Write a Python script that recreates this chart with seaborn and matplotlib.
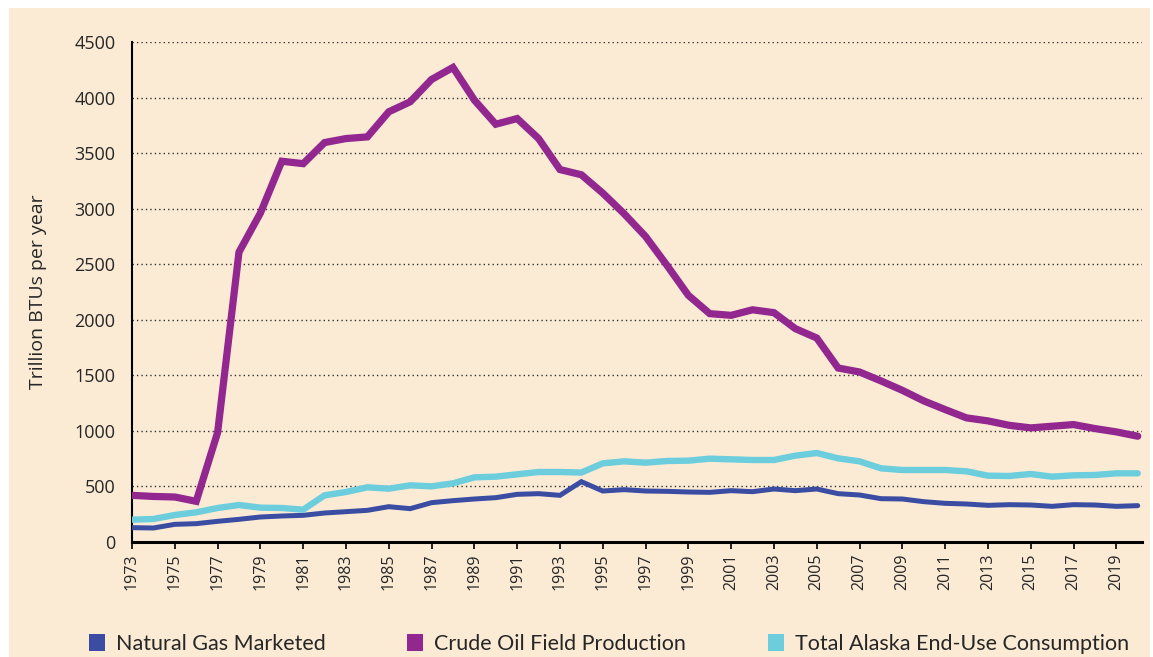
import numpy as np
import pandas as pd
import matplotlib
matplotlib.use("Agg")
import matplotlib.pyplot as plt
import seaborn as sns
from matplotlib.patches import Patch, Rectangle

years = list(range(1973, 2021))
natural_gas = [129, 126, 159, 165, 186, 204, 225, 234, 240, 261, 273, 285, 318, 300, 354, 372,
               387, 399, 429, 435, 420, 543, 459, 471, 459, 456, 450, 447, 462, 453, 477, 462,
               477, 435, 423, 390, 387, 363, 348, 342, 330, 336, 333, 321, 336, 333, 321, 327]
crude_oil = [420, 410, 405, 366, 985, 2609, 2960, 3427, 3405, 3595, 3631, 3646, 3872, 3962, 4163, 4271,
             3977, 3760, 3811, 3631, 3352, 3305, 3140, 2954, 2750, 2490, 2220, 2055, 2040, 2090, 2064, 1920,
             1836, 1566, 1530, 1450, 1365, 1270, 1192, 1117, 1090, 1050, 1027, 1042, 1057, 1021, 991, 952]
consumption = [201, 207, 243, 267, 306, 333, 309, 306, 291, 420, 450, 492, 480, 510, 501, 528,
               582, 588, 609, 630, 630, 625, 708, 726, 714, 729, 732, 750, 744, 738, 738, 777,
               801, 753, 726, 663, 648, 648, 648, 636, 597, 594, 612, 588, 600, 603, 618, 618]

series_names = ["Natural Gas Marketed", "Crude Oil Field Production", "Total Alaska End-Use Consumption"]
colors = ["#3A4DA3", "#92278F", "#6CCDDC"]
widths = [3.6, 5.2, 4.6]

df = pd.DataFrame({"year": years, series_names[0]: natural_gas,
                   series_names[1]: crude_oil, series_names[2]: consumption})
long = df.melt(id_vars="year", var_name="series", value_name="value")

sns.set_style("white")
plt.rcParams['font.family'] = ['Open Sans', 'DejaVu Sans']

bg = "#FCEBD4"
fig = plt.figure(figsize=(11.53, 6.57), dpi=100, facecolor="white")
fig.patches.append(Rectangle((9 / 1153, 0), (1150 - 9) / 1153, (657 - 8) / 657,
                             transform=fig.transFigure, facecolor=bg, edgecolor="none", zorder=-10))
ax = fig.add_axes([132 / 1153, (657 - 542) / 657, (1142 - 132) / 1153, 500 / 657])
ax.set_facecolor(bg)

order = [1, 2, 0]
for i in order:
    name = series_names[i]
    sub = long[long["series"] == name]
    sns.lineplot(data=sub, x="year", y="value", ax=ax, color=colors[i], linewidth=widths[i],
                 legend=False, zorder=3 + i, solid_joinstyle="miter")

ax.set_xlim(1973, 2020.2)
ax.set_ylim(0, 4500)
ax.set_yticks(np.arange(0, 4501, 500))
ax.set_xticks(list(range(1973, 2020, 2)))
ax.set_xticklabels([str(y) for y in range(1973, 2020, 2)], rotation=90, fontsize=11.5)
ax.tick_params(axis="y", labelsize=13, length=0, pad=12)
ax.tick_params(axis="x", length=5, width=1.2, color="black", direction="out", pad=3, bottom=True)
ax.yaxis.grid(True, linestyle=(0, (1, 2.2)), color="#333333", linewidth=1.0)
ax.xaxis.grid(False)
for s in ["top", "right"]:
    ax.spines[s].set_visible(False)
ax.spines["left"].set_color("black")
ax.spines["left"].set_linewidth(1.5)
ax.spines["bottom"].set_color("black")
ax.spines["bottom"].set_linewidth(2.2)
ax.set_xlabel("")
ax.set_ylabel("Trillion BTUs per year", fontsize=14, labelpad=14)
ax.yaxis.set_label_coords(-(132 - 47) / 1010, 0.5)

handles = [Patch(facecolor=c, edgecolor="none") for c in colors]
leg = fig.legend(handles, series_names, loc="center", bbox_to_anchor=(0.528, (657 - 644) / 657),
                 ncol=3, frameon=False, handlelength=0.75, handleheight=0.85,
                 handletextpad=0.5, columnspacing=3.8,
                 prop={'family': ['Lato', 'DejaVu Sans'], 'size': 15.5})

fig.savefig("out.png", dpi=100, facecolor="white")
